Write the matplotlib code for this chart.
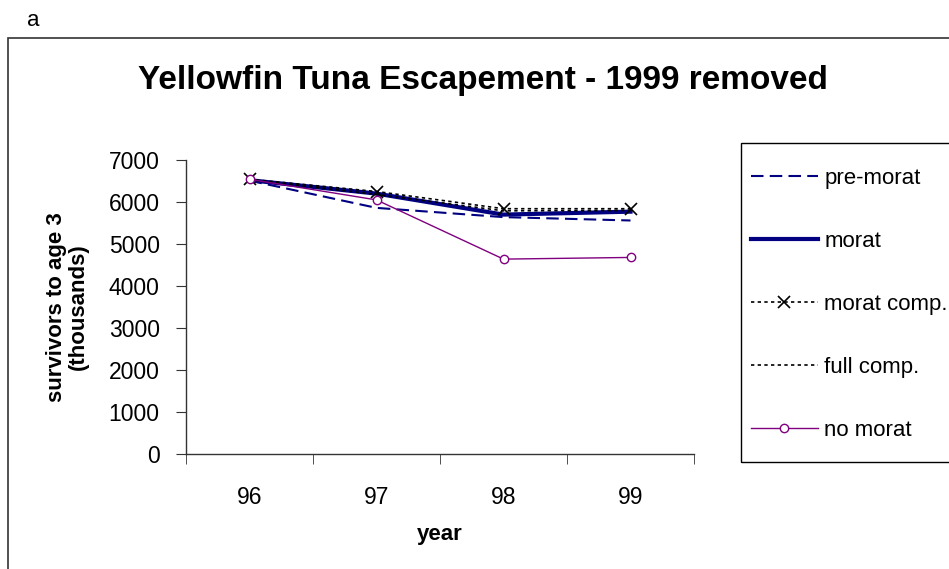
import matplotlib.pyplot as plt
from matplotlib.patches import Rectangle

plt.rcParams['font.family'] = ['Liberation Sans', 'DejaVu Sans']

# données (milliers de survivants à l'âge 3)
years = ['96', '97', '98', '99']
pre_morat = [6510, 5860, 5640, 5560]
morat = [6520, 6200, 5700, 5770]
morat_comp = [6540, 6250, 5840, 5840]
full_comp = [6530, 6180, 5790, 5800]
no_morat = [6540, 6050, 4640, 4680]

x = list(range(1, len(years) + 1))

fig = plt.figure(figsize=(9.49, 5.69), dpi=100)
ax = fig.add_axes([186 / 949, 1 - 454 / 569, (694 - 186) / 949, (454 - 160) / 569])

ax.plot(x, pre_morat, color='#000080', lw=1.5, linestyle=(0, (6, 3)), label='pre-morat')
ax.plot(x, morat, color='#000080', lw=3, label='morat')
ax.plot(x, morat_comp, color='black', lw=1.2, linestyle=(0, (2, 2)),
        marker='x', markersize=9, markeredgewidth=1.2, label='morat comp.')
ax.plot(x, full_comp, color='black', lw=1.2, linestyle=(0, (2, 2)), label='full comp.')
ax.plot(x, no_morat, color='#800080', lw=1, marker='o', markersize=6,
        markerfacecolor='white', markeredgewidth=1, label='no morat')

ax.set_xlim(0.5, len(years) + 0.5)
ax.set_ylim(0, 7000)
ax.set_yticks(range(0, 7001, 1000))
ax.set_xticks(x)
ax.set_xticklabels(years)
ax.set_xticks([i + 0.5 for i in range(len(years) + 1)], minor=True)
ax.tick_params(axis='x', which='major', length=0, pad=23, labelsize=16.5)
ax.tick_params(axis='x', which='minor', length=7, direction='out', color='#333333')
ax.tick_params(axis='y', length=7, direction='out', pad=12, labelsize=16.5, color='#333333')
for s in ['top', 'right']:
    ax.spines[s].set_visible(False)
for s in ['left', 'bottom']:
    ax.spines[s].set_color('#333333')
    ax.spines[s].set_linewidth(1)

ax.set_xlabel('year', fontsize=16, fontweight='bold', labelpad=11)
ax.set_ylabel('survivors to age 3\n(thousands)', fontsize=16, fontweight='bold',
              labelpad=14, linespacing=1.1)

fig.text(483 / 949, 1 - 80 / 569, 'Yellowfin Tuna Escapement - 1999 removed',
         fontsize=24, fontweight='bold', ha='center', va='center')
fig.text(27 / 949, 1 - 20 / 569, 'a', fontsize=16, ha='left', va='center')

# cadres
fig.patches.append(Rectangle((8 / 949, -0.1), 1.2, 1 - 38 / 569 + 0.1,
                             transform=fig.transFigure, fill=False,
                             edgecolor='#333333', lw=1.2, clip_on=False))
fig.patches.append(Rectangle((741 / 949, 1 - 462 / 569), 0.3, (462 - 143) / 569,
                             transform=fig.transFigure, fill=False,
                             edgecolor='black', lw=1, clip_on=False))

fig.legend(loc='upper left', bbox_to_anchor=(751 / 949, 1 - 168 / 569),
           frameon=False, borderpad=0, borderaxespad=0, fontsize=16,
           handlelength=3.0, handletextpad=0.3, labelspacing=1.89, numpoints=1)

fig.savefig('out.png', dpi=100)
